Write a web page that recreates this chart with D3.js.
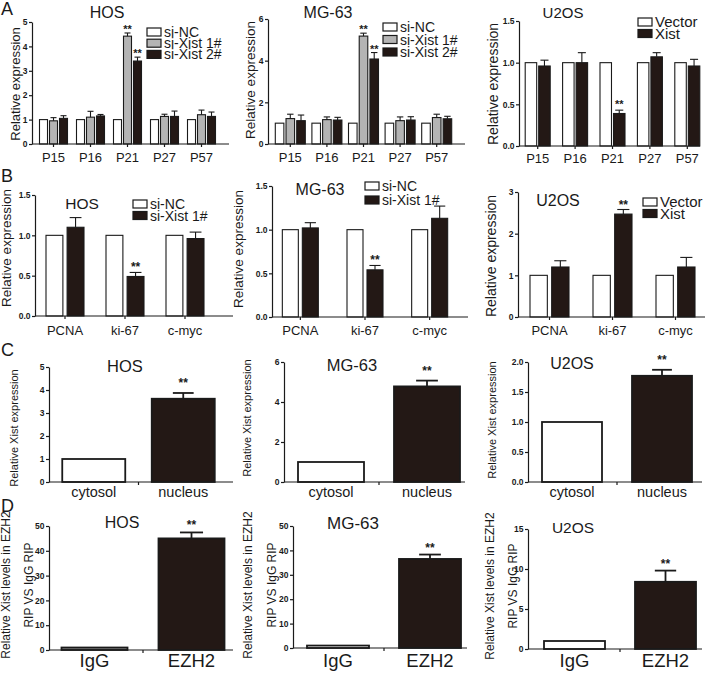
<!DOCTYPE html>
<html>
<head>
<meta charset="utf-8">
<script src="https://cdn.jsdelivr.net/npm/d3@7"></script>
<style>
body { margin: 0; background: #fff; }
svg { display: block; font-family: "Liberation Sans", Arial, sans-serif; }
</style>
</head>
<body>
<svg width="713" height="674"></svg>
<script>
// ---- data ----
var genesA = ["P15", "P16", "P21", "P27", "P57"];
var ticksA1 = [0, 1, 2, 3, 4, 5];
var ticksA2 = [0, 2, 4, 6];
var ticksA3 = [0, 0.5, 1, 1.5];
var hosA_nc = [1, 1, 1, 1, 1];
var hosA_x1 = [0.95, 1.1, 4.42, 1.13, 1.2];
var hosA_x1_err = [0.13, 0.24, 0.13, 0.09, 0.19];
var hosA_x2 = [1.05, 1.15, 3.4, 1.13, 1.13];
var hosA_x2_err = [0.11, 0.06, 0.16, 0.22, 0.18];
var mgA_nc = [1, 1, 1, 1, 1];
var mgA_x1 = [1.22, 1.17, 5.18, 1.12, 1.27];
var mgA_x1_err = [0.21, 0.13, 0.14, 0.18, 0.16];
var mgA_x2 = [1.12, 1.15, 4.08, 1.15, 1.21];
var mgA_x2_err = [0.27, 0.13, 0.31, 0.16, 0.12];
var u2A_vec = [1, 1, 1, 1, 1];
var u2A_xist = [0.96, 1.0, 0.39, 1.07, 0.96];
var u2A_xist_err = [0.07, 0.12, 0.04, 0.05, 0.08];
var sigA = ["", "", "**", "", ""];

var genesB = ["PCNA", "ki-67", "c-myc"];
var ticksB12 = [0, 0.5, 1, 1.5];
var ticksB3 = [0, 1, 2, 3];
var hosB_nc = [1, 1, 1];
var hosB_x1 = [1.1, 0.49, 0.96];
var hosB_x1_err = [0.12, 0.05, 0.08];
var mgB_nc = [1, 1, 1];
var mgB_x1 = [1.02, 0.54, 1.13];
var mgB_x1_err = [0.06, 0.05, 0.14];
var u2B_vec = [1, 1, 1];
var u2B_xist = [1.2, 2.47, 1.2];
var u2B_xist_err = [0.15, 0.11, 0.23];
var sigB = ["", "**", ""];

var fractionsC = ["cytosol", "nucleus"];
var ticksC1 = [0, 1, 2, 3, 4, 5];
var ticksC2 = [0, 2, 4, 6];
var ticksC3 = [0, 0.5, 1, 1.5, 2];
var hosC = [1, 3.62];
var hosC_err = [0, 0.25];
var mgC = [1, 4.78];
var mgC_err = [0, 0.29];
var u2C = [1, 1.77];
var u2C_err = [0, 0.1];

var ripD = ["IgG", "EZH2"];
var ticksD12 = [0, 10, 20, 30, 40, 50];
var ticksD3 = [0, 5, 10, 15];
var hosD = [1, 45];
var hosD_err = [0, 2.4];
var mgD = [1, 36.5];
var mgD_err = [0, 1.8];
var u2D = [1, 8.4];
var u2D_err = [0, 1.4];
var sigCD = ["", "**"];

var namesKD2 = ["si-NC", "si-Xist 1#", "si-Xist 2#"];
var namesKD1 = ["si-NC", "si-Xist 1#"];
var namesOE = ["Vector", "Xist"];
var cellLines = ["HOS", "MG-63", "U2OS"];
var panelLetters = ["A", "B", "C", "D"];

var WHITE = "#ffffff", GRAY = "#b4b4b4", BLACK = "#231815", INK = "#1a1a1a";

var svg = d3.select("svg");

function drawPanel(p) {
    var g = svg.append("g");
    var y = d3.scaleLinear().domain([0, p.ymax]).range([p.y0, p.yTop]);
    var x = d3.scaleBand().domain(p.cats).range(p.range);
    var xs = d3.scaleBand().domain(d3.range(p.series.length))
        .range([-p.gw / 2, p.gw / 2]).paddingInner(p.spad || 0);
    var center = function (c) { return x(c) + x.bandwidth() / 2; };

    // bars + error bars
    p.series.forEach(function (s, si) {
        var rows = p.cats.map(function (c, i) {
            return {
                cat: c, v: s.v[i], e: s.e ? s.e[i] : 0,
                sig: s.sig ? s.sig[i] : "",
                fill: Array.isArray(s.fill) ? s.fill[i] : s.fill
            };
        });
        var bw = xs.bandwidth();
        var left = function (d) { return center(d.cat) + xs(si); };

        g.selectAll(null).data(rows).enter().append("rect")
            .attr("x", left)
            .attr("y", function (d) { return y(d.v); })
            .attr("width", bw)
            .attr("height", function (d) { return y(0) - y(d.v); })
            .attr("fill", function (d) { return d.fill; })
            .attr("stroke", INK)
            .attr("stroke-width", p.sw);

        var withErr = rows.filter(function (d) { return d.e > 0; });
        g.selectAll(null).data(withErr).enter().append("line")
            .attr("x1", function (d) { return left(d) + bw / 2; })
            .attr("x2", function (d) { return left(d) + bw / 2; })
            .attr("y1", function (d) { return y(d.v); })
            .attr("y2", function (d) { return y(d.v + d.e); })
            .attr("stroke", INK).attr("stroke-width", p.sw);
        g.selectAll(null).data(withErr).enter().append("line")
            .attr("x1", function (d) { return left(d) + bw / 2 - bw * p.cap / 2; })
            .attr("x2", function (d) { return left(d) + bw / 2 + bw * p.cap / 2; })
            .attr("y1", function (d) { return y(d.v + d.e); })
            .attr("y2", function (d) { return y(d.v + d.e); })
            .attr("stroke", INK).attr("stroke-width", p.sw);

        g.selectAll(null).data(rows.filter(function (d) { return d.sig; })).enter().append("text")
            .attr("x", function (d) { return left(d) + bw / 2; })
            .attr("y", function (d) { return y(d.v + d.e) - p.sgap; })
            .attr("text-anchor", "middle")
            .attr("font-size", p.ss)
            .attr("font-weight", "bold")
            .attr("fill", INK)
            .text(function (d) { return d.sig; });
    });

    // y axis
    var yAxis = d3.axisLeft(y).tickValues(p.ticks).tickFormat(d3.format(p.fmt))
        .tickSize(3).tickSizeOuter(0).tickPadding(1.5);
    var ya = g.append("g").attr("transform", "translate(" + p.x0 + ",0)").call(yAxis);
    ya.selectAll("path,line").attr("stroke", INK).attr("stroke-width", 1.2);
    ya.selectAll("text").attr("font-size", 8.5).attr("font-weight", "bold")
        .attr("font-family", "'Liberation Sans', Arial, sans-serif").attr("fill", INK);

    // x axis
    g.append("line").attr("x1", p.x0).attr("x2", p.x1).attr("y1", p.y0).attr("y2", p.y0)
        .attr("stroke", INK).attr("stroke-width", 1.2);
    var xt = p.xt === "mid"
        ? d3.pairs(p.cats).map(function (pr) { return (center(pr[0]) + center(pr[1])) / 2; })
        : p.cats.map(center);
    g.selectAll(null).data(xt).enter().append("line")
        .attr("x1", function (d) { return d; }).attr("x2", function (d) { return d; })
        .attr("y1", p.y0).attr("y2", p.y0 + 3)
        .attr("stroke", INK).attr("stroke-width", 1.2);
    g.selectAll(null).data(p.cats).enter().append("text")
        .attr("x", center).attr("y", p.ly)
        .attr("text-anchor", "middle").attr("font-size", p.ls).attr("fill", INK)
        .text(function (d) { return d; });

    // title
    g.append("text").attr("x", p.title.x).attr("y", p.title.y)
        .attr("text-anchor", "middle").attr("font-size", p.title.s).attr("fill", INK)
        .text(p.title.t);

    // legend
    if (p.legend) {
        var lg = g.selectAll(null).data(p.legend.items).enter().append("g")
            .attr("transform", function (d, i) {
                return "translate(" + p.legend.x + "," + (p.legend.y + i * p.legend.dy) + ")";
            });
        lg.append("rect").attr("x", 0).attr("y", -4).attr("width", 14).attr("height", 8)
            .attr("fill", function (d) { return d[1]; })
            .attr("stroke", INK).attr("stroke-width", 1.2);
        lg.append("text").attr("x", 17).attr("dy", "0.36em")
            .attr("font-size", p.legend.s).attr("fill", INK)
            .text(function (d) { return d[0]; });
    }

    // y label
    p.ylab.lines.forEach(function (t, i) {
        g.append("text")
            .attr("transform", "translate(" + p.ylab.xs[i] + "," + p.ylab.y + ") rotate(-90)")
            .attr("text-anchor", "middle").attr("dy", "0.3em")
            .attr("font-size", p.ylab.s).attr("fill", INK)
            .text(t);
    });
}

var legKD2 = namesKD2.map(function (n, i) { return [n, [WHITE, GRAY, BLACK][i]]; });
var legKD1 = namesKD1.map(function (n, i) { return [n, [WHITE, BLACK][i]]; });
var legOE = namesOE.map(function (n, i) { return [n, [WHITE, BLACK][i]]; });
var ylabA = "Relative expression";
var ylabC = "Relative Xist expression";
var ylabD = ["Relative Xist levels in EZH2", "RIP VS IgG RIP"];

var panels = [
    // row A
    { cats: genesA, range: [35, 220], gw: 28, spad: 0.2, x0: 32, x1: 229, y0: 144, yTop: 22, ymax: 5,
      ticks: ticksA1, fmt: "d", sw: 1.1, cap: 0.75, ss: 11, sgap: 0,
      series: [{ v: hosA_nc, fill: WHITE }, { v: hosA_x1, e: hosA_x1_err, fill: GRAY, sig: sigA },
               { v: hosA_x2, e: hosA_x2_err, fill: BLACK, sig: sigA }],
      title: { t: cellLines[0], x: 107, y: 18, s: 16 },
      legend: { x: 147, y: 32, dy: 11.2, s: 14, items: legKD2 },
      ylab: { lines: [ylabA], xs: [16], y: 84, s: 13 }, ly: 162, ls: 13, xt: "center" },
    { cats: genesA, range: [272, 455], gw: 30, spad: 0.2, x0: 268, x1: 465, y0: 144, yTop: 19, ymax: 6,
      ticks: ticksA2, fmt: "d", sw: 1.1, cap: 0.75, ss: 11, sgap: 0,
      series: [{ v: mgA_nc, fill: WHITE }, { v: mgA_x1, e: mgA_x1_err, fill: GRAY, sig: sigA },
               { v: mgA_x2, e: mgA_x2_err, fill: BLACK, sig: sigA }],
      title: { t: cellLines[1], x: 328, y: 18, s: 16 },
      legend: { x: 383, y: 27, dy: 12.5, s: 14, items: legKD2 },
      ylab: { lines: [ylabA], xs: [251], y: 80, s: 13.5 }, ly: 162, ls: 13, xt: "center" },
    { cats: genesA, range: [519, 706], gw: 25, spad: 0.15, x0: 519, x1: 700, y0: 146, yTop: 21, ymax: 1.5,
      ticks: ticksA3, fmt: ".1f", sw: 1.1, cap: 0.7, ss: 11, sgap: 2,
      series: [{ v: u2A_vec, fill: WHITE }, { v: u2A_xist, e: u2A_xist_err, fill: BLACK, sig: sigA }],
      title: { t: cellLines[2], x: 563, y: 18, s: 15 },
      legend: { x: 638, y: 22, dy: 11.5, s: 15, items: legOE },
      ylab: { lines: [ylabA], xs: [494], y: 84, s: 14 }, ly: 163, ls: 13, xt: "center" },
    // row B
    { cats: genesB, range: [35, 215], gw: 38, spad: 0.2, x0: 35, x1: 233, y0: 316, yTop: 195, ymax: 1.5,
      ticks: ticksB12, fmt: ".1f", sw: 1.1, cap: 0.7, ss: 12, sgap: 1,
      series: [{ v: hosB_nc, fill: WHITE }, { v: hosB_x1, e: hosB_x1_err, fill: BLACK, sig: sigB }],
      title: { t: cellLines[0], x: 82, y: 209, s: 15.5 },
      legend: { x: 133, y: 204, dy: 11.5, s: 14, items: legKD1 },
      ylab: { lines: [ylabA], xs: [7], y: 248, s: 13.5 }, ly: 335, ls: 13, xt: "center" },
    { cats: genesB, range: [268, 462], gw: 36, spad: 0.2, x0: 272, x1: 468, y0: 317, yTop: 186, ymax: 1.5,
      ticks: ticksB12, fmt: ".1f", sw: 1.1, cap: 0.7, ss: 12, sgap: 1,
      series: [{ v: mgB_nc, fill: WHITE }, { v: mgB_x1, e: mgB_x1_err, fill: BLACK, sig: sigB }],
      title: { t: cellLines[1], x: 320, y: 195, s: 16 },
      legend: { x: 365, y: 186, dy: 14, s: 14, items: legKD1 },
      ylab: { lines: [ylabA], xs: [239], y: 249, s: 13.5 }, ly: 335, ls: 13, xt: "center" },
    { cats: genesB, range: [518, 707], gw: 39, spad: 0.2, x0: 518, x1: 705, y0: 317, yTop: 192, ymax: 3,
      ticks: ticksB3, fmt: "d", sw: 1.1, cap: 0.7, ss: 12, sgap: 1,
      series: [{ v: u2B_vec, fill: WHITE }, { v: u2B_xist, e: u2B_xist_err, fill: BLACK, sig: sigB }],
      title: { t: cellLines[2], x: 558, y: 206, s: 16 },
      legend: { x: 643, y: 202, dy: 11.5, s: 15, items: legOE },
      ylab: { lines: [ylabA], xs: [492], y: 256, s: 14 }, ly: 335, ls: 13, xt: "center" },
    // row C
    { cats: fractionsC, range: [49, 228], gw: 63, x0: 49, x1: 233, y0: 482, yTop: 367, ymax: 5,
      ticks: ticksC1, fmt: "d", sw: 1.8, cap: 0.33, ss: 12, sgap: 6,
      series: [{ v: hosC, e: hosC_err, fill: [WHITE, BLACK], sig: sigCD }],
      title: { t: cellLines[0], x: 125, y: 372, s: 16.5 },
      ylab: { lines: [ylabC], xs: [15], y: 428, s: 11 }, ly: 497, ls: 14.5, xt: "mid" },
    { cats: fractionsC, range: [283, 475], gw: 66, x0: 284, x1: 465, y0: 482, yTop: 362, ymax: 6,
      ticks: ticksC2, fmt: "d", sw: 1.8, cap: 0.33, ss: 12, sgap: 6,
      series: [{ v: mgC, e: mgC_err, fill: [WHITE, BLACK], sig: sigCD }],
      title: { t: cellLines[1], x: 352, y: 371, s: 16.5 },
      ylab: { lines: [ylabC], xs: [248], y: 418, s: 11 }, ly: 497, ls: 14.5, xt: "mid" },
    { cats: fractionsC, range: [527, 707], gw: 60, x0: 528, x1: 702, y0: 482, yTop: 362, ymax: 2,
      ticks: ticksC3, fmt: ".1f", sw: 1.8, cap: 0.33, ss: 12, sgap: 6,
      series: [{ v: u2C, e: u2C_err, fill: [WHITE, BLACK], sig: sigCD }],
      title: { t: cellLines[2], x: 572, y: 369, s: 16 },
      ylab: { lines: [ylabC], xs: [493], y: 420, s: 11 }, ly: 497, ls: 14.5, xt: "mid" },
    // row D
    { cats: ripD, range: [46, 240], gw: 66, x0: 49, x1: 233, y0: 650, yTop: 526, ymax: 50,
      ticks: ticksD12, fmt: "d", sw: 1.8, cap: 0.35, ss: 12, sgap: 3,
      series: [{ v: hosD, e: hosD_err, fill: ["#8c8c8c", BLACK], sig: sigCD }],
      title: { t: cellLines[0], x: 122, y: 528, s: 16 },
      ylab: { lines: ylabD, xs: [6, 29], y: 585, s: 12 }, ly: 667, ls: 18.5, xt: "mid" },
    { cats: ripD, range: [292, 476], gw: 62, x0: 293, x1: 467, y0: 648, yTop: 526, ymax: 50,
      ticks: ticksD12, fmt: "d", sw: 1.8, cap: 0.35, ss: 12, sgap: 3,
      series: [{ v: mgD, e: mgD_err, fill: [WHITE, BLACK], sig: sigCD }],
      title: { t: cellLines[1], x: 353, y: 529, s: 17 },
      ylab: { lines: ylabD, xs: [248, 272], y: 585, s: 12 }, ly: 667, ls: 18.5, xt: "mid" },
    { cats: ripD, range: [529, 711], gw: 61, x0: 528, x1: 702, y0: 649, yTop: 529, ymax: 15,
      ticks: ticksD3, fmt: "d", sw: 1.8, cap: 0.35, ss: 12, sgap: 3,
      series: [{ v: u2D, e: u2D_err, fill: [WHITE, BLACK], sig: sigCD }],
      title: { t: cellLines[2], x: 573, y: 533, s: 15.5 },
      ylab: { lines: ylabD, xs: [490, 513], y: 586, s: 12 }, ly: 667, ls: 18.5, xt: "mid" }
];

panels.forEach(drawPanel);

// panel letters
var letterPos = [[1, 15], [1, 182], [1, 356], [1, 512]];
svg.selectAll(null).data(panelLetters).enter().append("text")
    .attr("x", function (d, i) { return letterPos[i][0]; })
    .attr("y", function (d, i) { return letterPos[i][1]; })
    .attr("font-size", 18).attr("fill", INK)
    .text(function (d) { return d; });
</script>
</body>
</html>
